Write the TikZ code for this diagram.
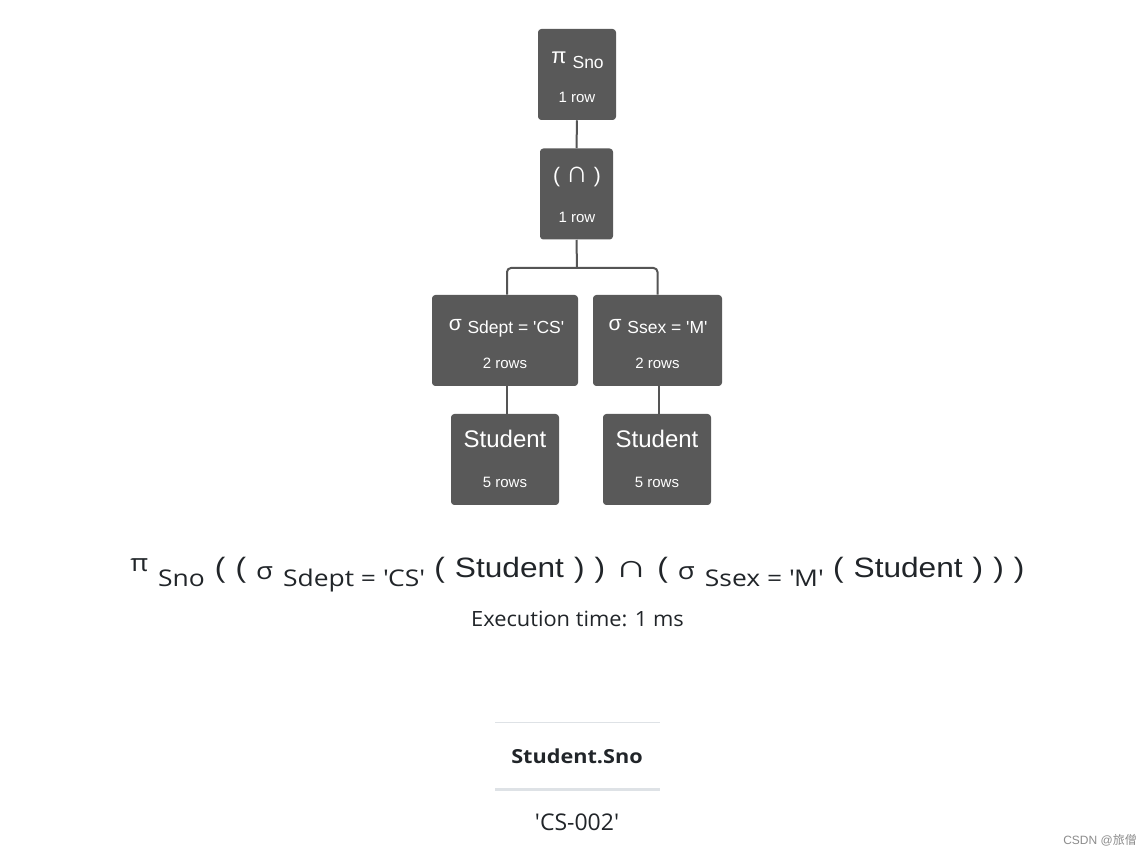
\documentclass[tikz,border=0pt]{standalone}
\usepackage{fontspec}
\setmainfont{Liberation Sans}
\newfontfamily\mainwide{Liberation Sans}[FakeStretch=1.13, WordSpace=1.14]
\newfontfamily\uifont{Open Sans}
\newfontfamily\uiwide{Open Sans}[FakeStretch=1.15]
\newfontfamily\uimid{Open Sans}[FakeStretch=1.04]
\newfontfamily\uibold{Open Sans}[FakeStretch=1.12]
\newfontfamily\capwide{Liberation Sans}[FakeStretch=1.4]
\newfontfamily\cjkfont{Noto Sans CJK SC}
\definecolor{boxgray}{HTML}{595959}
\definecolor{linegray}{HTML}{555555}
\definecolor{rulegray}{HTML}{DEE2E6}
\definecolor{textdark}{HTML}{212529}
\newcommand\fsz[1]{\fontsize{#1}{#1}\selectfont}
\newcommand\q{\textquotesingle}
\newcommand\Gk[1]{{\uiwide\fsz{18pt}#1}}
\newcommand\Sb[1]{{\uiwide\fsz{17.25pt}\raisebox{-6.5pt}{#1}}}
\begin{document}
\begin{tikzpicture}[x=0.75pt,y=-0.75pt,
 opbox/.style={fill=boxgray, rounded corners=2.5pt, inner sep=0pt, minimum height=68.25pt},
 optop/.style={anchor=base, text=white, inner sep=0pt},
 oprows/.style={anchor=base, text=white, inner sep=0pt, font=\fsz{11.25pt}},
 conn/.style={draw=linegray, line width=1.5pt},
]
\useasboundingbox[fill=white] (0,0) rectangle (1147,855);

% operator boxes
\node[opbox, minimum width=58.5pt] (pi) at (577,74.5) {};
\node[optop] (piT) at (577.5,68.5) {\fsz{16.5pt}\raisebox{3.75pt}{π} \fsz{13.125pt}Sno};
\node[oprows] (piR) at (577,103) {1 row};

\node[opbox, minimum width=54.75pt] (cap) at (576.5,194) {};
\node[optop, font=\fsz{15.75pt}] (capT) at (577,183) {( {\fsz{23pt}∩} )};
\node[oprows] (capR) at (577,223) {1 row};

\node[opbox, minimum width=109.5pt] (s1) at (505,340.5) {};
\node[optop] (s1T) at (506.5,334) {\fsz{15.75pt}\raisebox{2.25pt}{σ} \fsz{13.125pt}Sdept = \q CS\q};
\node[oprows] (s1R) at (505,369) {2 rows};

\node[opbox, minimum width=96.75pt] (s2) at (657.5,340.5) {};
\node[optop] (s2T) at (658,334) {\fsz{15.75pt}\raisebox{2.25pt}{σ} \fsz{13.125pt}Ssex = \q M\q};
\node[oprows] (s2R) at (657.5,369) {2 rows};

\node[opbox, minimum width=81pt] (st1) at (505,459.5) {};
\node[optop, font=\fsz{18pt}] (st1T) at (505,448) {Student};
\node[oprows] (st1R) at (505,488) {5 rows};

\node[opbox, minimum width=81pt] (st2) at (657,459.5) {};
\node[optop, font=\fsz{18pt}] (st2T) at (657,448) {Student};
\node[oprows] (st2R) at (657,488) {5 rows};

% connectors
\coordinate (fork) at (577,268);
\draw[conn] (pi.south) -- (cap.north);
\draw[conn] (cap.south) -- (fork);
\draw[conn, rounded corners=3pt] (fork) -| ([xshift=1.5pt]s1.north);
\draw[conn, rounded corners=3pt] (fork) -| (s2.north);
\draw[conn] ([xshift=1.5pt]s1.south) -- ([xshift=1.5pt]s1.south |- st1.north);
\draw[conn] ([xshift=0.9pt]s2.south) -- ([xshift=0.9pt]s2.south |- st2.north);

% expression
\node[anchor=base west, inner sep=0pt, text=textdark, font=\mainwide\fsz{21pt}] (expr) at (130,578)
 {\raisebox{5.25pt}{\Gk{π}} \Sb{Sno} ( ( \raisebox{-1.2pt}{\Gk{σ}} \Sb{Sdept = \q CS\q} ( Student ) ) {\capwide\fsz{24pt}∩} ( \raisebox{-1.2pt}{\Gk{σ}} \Sb{Ssex = \q M\q} ( Student ) ) )};
\node[anchor=base, inner sep=0pt, text=textdark, font=\uimid\fsz{15.75pt}] (exec) at (577.5,626.5) {Execution time: 1 ms};

% result table
\draw[rulegray, line width=0.75pt] (495,722) -- (660,722);
\node[anchor=base, inner sep=0pt, text=textdark, font=\uibold\bfseries\fsz{14.5pt}] (hdr) at (577,763) {Student.Sno};
\draw[rulegray, line width=2.25pt] (495,789) -- (660,789);
\node[anchor=base, inner sep=0pt, text=textdark, font=\uifont\fsz{17.25pt}] (cell) at (577,830) {\q CS-002\q};

% watermark
\node[anchor=base west, inner sep=0pt, text=black!45, font=\fsz{9pt}] (wm) at (1063,844) {CSDN @{\cjkfont 旅僧}};
\end{tikzpicture}
\end{document}
